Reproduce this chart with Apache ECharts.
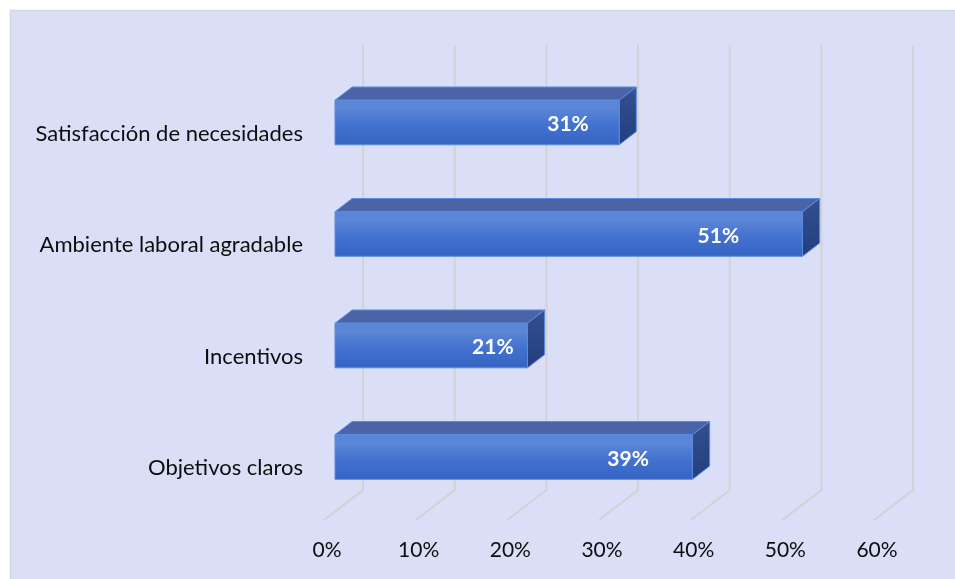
<!DOCTYPE html>
<html>
<head>
<meta charset="utf-8">
<script src="https://cdn.jsdelivr.net/npm/echarts@6/dist/echarts.min.js"></script>
<style>
  html, body { margin: 0; padding: 0; background: #ffffff; }
  #chart { width: 955px; height: 579px; }
</style>
</head>
<body>
<div id="chart"></div>
<script>
// Chart data
const categories = [
  'Satisfacción de necesidades',
  'Ambiente laboral agradable',
  'Incentivos',
  'Objetivos claros'
];
const shares = [31, 51, 21, 39];
const ticks = [0, 10, 20, 30, 40, 50, 60];
const tickLabels = ['0%', '10%', '20%', '30%', '40%', '50%', '60%'];

// Oblique 3D projection: depth 0 is the front edge of the floor, 1 the back wall.
const DX = 39, DY = -30;
const BAR_FRONT = 0.28, BAR_BACK = 0.72;
const FONT = 'Lato, "Open Sans", sans-serif';

function shift(depth) {
  // offset from the bar front plane (the plane the axes map onto)
  return [DX * (depth - BAR_FRONT), DY * (depth - BAR_FRONT)];
}

const chart = echarts.init(document.getElementById('chart'), null, { renderer: 'canvas' });

const option = {
  backgroundColor: '#ffffff',
  animation: false,
  graphic: [{
    type: 'rect',
    z: -10,
    silent: true,
    shape: { x: 10.5, y: 10.5, width: 1000, height: 700 },
    style: { fill: '#dadff7', stroke: '#d6d6d6', lineWidth: 1.5 }
  }],
  grid: { left: 335, right: 70, top: 66.75, bottom: 66.25, containLabel: false },
  xAxis: {
    type: 'value',
    min: 0,
    max: 60,
    interval: 10,
    axisLine: { show: false },
    axisTick: { show: false },
    splitLine: { show: false },
    axisLabel: {
      margin: 27,
      color: '#0d0d0d',
      fontFamily: FONT,
      fontSize: 21,
      padding: [0, 16, 0, 0],
      formatter: function (v) { return tickLabels[ticks.indexOf(v)]; }
    }
  },
  yAxis: {
    type: 'category',
    inverse: true,
    data: categories,
    axisLine: { show: false },
    axisTick: { show: false },
    splitLine: { show: false },
    axisLabel: {
      margin: 32,
      color: '#0d0d0d',
      fontFamily: FONT,
      fontSize: 22,
      verticalAlign: 'top'
    }
  },
  series: [
    {
      // perspective grid lines: back-wall verticals bending onto the floor
      type: 'custom',
      silent: true,
      z: 1,
      data: ticks.map(function (v) { return [v, 0]; }),
      renderItem: function (params, api) {
        const cs = params.coordSys;
        const x = api.coord([api.value(0), 0])[0];
        const back = shift(1), front = shift(0);
        const floorFront = cs.y + cs.height + 7.25;
        const floorBack = floorFront + DY;
        const top = cs.y - 21.75;
        return {
          type: 'polyline',
          shape: {
            points: [
              [x + back[0], top],
              [x + back[0], floorBack],
              [x + front[0], floorFront]
            ]
          },
          style: { stroke: '#d2d2d4', lineWidth: 2, fill: null }
        };
      }
    },
    {
      // 3D bars: front face, top face, right side face, value label
      type: 'custom',
      z: 3,
      data: shares.map(function (v, i) { return [v, i]; }),
      renderItem: function (params, api) {
        const v = api.value(0), c = api.value(1);
        const p0 = api.coord([0, c]);
        const p1 = api.coord([v, c]);
        const h = api.size([0, 1])[1] * 0.4;
        const y0 = p0[1] - h / 2, y1 = p0[1] + h / 2;
        const xL = p0[0], xR = p1[0];
        const o = shift(BAR_BACK);
        const ox = o[0], oy = o[1];
        const lp = api.coord([v * 0.82, c]);
        const edge = '#5b8be0';
        return {
          type: 'group',
          children: [
            {
              type: 'polygon',
              shape: { points: [[xL, y0], [xL + ox, y0 + oy], [xR + ox, y0 + oy], [xR, y0]] },
              style: { fill: '#4b64a7', stroke: edge, lineWidth: 1 }
            },
            {
              type: 'polygon',
              shape: { points: [[xR, y0], [xR + ox, y0 + oy], [xR + ox, y1 + oy], [xR, y1]] },
              style: {
                fill: new echarts.graphic.LinearGradient(0, 0, 0, 1, [
                  { offset: 0, color: '#33508f' },
                  { offset: 1, color: '#223e80' }
                ]),
                stroke: edge, lineWidth: 1
              }
            },
            {
              type: 'rect',
              shape: { x: xL, y: y0, width: xR - xL, height: h },
              style: {
                fill: new echarts.graphic.LinearGradient(0, 0, 0, 1, [
                  { offset: 0, color: '#5a86d8' },
                  { offset: 0.2, color: '#5c86d6' },
                  { offset: 0.55, color: '#4372cf' },
                  { offset: 1, color: '#3463c3' }
                ]),
                stroke: edge, lineWidth: 1
              }
            },
            {
              type: 'text',
              x: lp[0],
              y: lp[1] + 2,
              style: {
                text: v + '%',
                fill: '#ffffff',
                fontFamily: FONT,
                fontWeight: 'bold',
                fontSize: 21,
                align: 'center',
                verticalAlign: 'middle'
              }
            }
          ]
        };
      }
    }
  ]
};

chart.setOption(option);
</script>
</body>
</html>
